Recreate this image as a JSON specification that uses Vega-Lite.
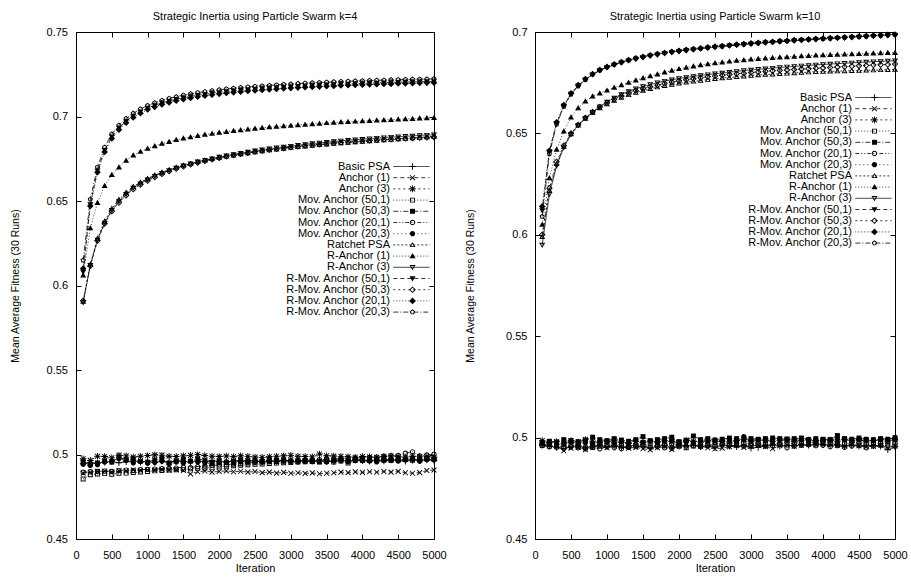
{
"$schema":"https://vega.github.io/schema/vega-lite/v6.json",
"background":"white",
"padding":{"left":9,"top":10,"right":5,"bottom":3},
"config":{
 "view":{"stroke":"black","strokeWidth":1},
 "axis":{"labelFont":"Liberation Sans","labelFontSize":11,"labelColor":"black","titleFont":"Liberation Sans","titleFontSize":11,"titleFontWeight":"normal","titleColor":"black","tickColor":"black","tickWidth":1,"tickSize":-5,"domain":false,"grid":false,"labelFlush":false,"labelOverlap":false,"minExtent":0},
 "title":{"font":"Liberation Sans","fontSize":11,"fontWeight":"normal","color":"black","offset":4},
 "legend":{"labelFont":"Liberation Sans","labelFontSize":11,"labelColor":"black","rowPadding":0.2,"padding":0}
},
"resolve":{"scale":{"strokeDash":"independent","shape":"independent"},"legend":{"strokeDash":"independent","shape":"independent"}},
"datasets":{
"k4":[
{"s":"Basic PSA","m":"Basic PSA","x":[100,200,300,400,500,600,700,800,900,1000,1100,1200,1300,1400,1500,1600,1700,1800,1900,2000,2100,2200,2300,2400,2500,2600,2700,2800,2900,3000,3100,3200,3300,3400,3500,3600,3700,3800,3900,4000,4100,4200,4300,4400,4500,4600,4700,4800,4900,5000],"y":[0.4945,0.4952,0.4948,0.4955,0.4958,0.4951,0.4957,0.4962,0.4955,0.4958,0.4953,0.4960,0.4956,0.4962,0.4958,0.4955,0.4961,0.4957,0.4963,0.4959,0.4955,0.4962,0.4958,0.4964,0.4960,0.4957,0.4963,0.4959,0.4965,0.4961,0.4958,0.4964,0.4960,0.4966,0.4962,0.4959,0.4965,0.4961,0.4967,0.4963,0.4960,0.4966,0.4962,0.4968,0.4964,0.4961,0.4967,0.4963,0.4969,0.4965]},
{"s":"Anchor (1)","m":"Anchor (1)","x":[100,200,300,400,500,600,700,800,900,1000,1100,1200,1300,1400,1500,1600,1700,1800,1900,2000,2100,2200,2300,2400,2500,2600,2700,2800,2900,3000,3100,3200,3300,3400,3500,3600,3700,3800,3900,4000,4100,4200,4300,4400,4500,4600,4700,4800,4900,5000],"y":[0.4890,0.4895,0.4900,0.4902,0.4898,0.4905,0.4903,0.4908,0.4906,0.4910,0.4908,0.4912,0.4907,0.4910,0.4905,0.4885,0.4898,0.4902,0.4896,0.4900,0.4903,0.4898,0.4901,0.4896,0.4899,0.4893,0.4896,0.4890,0.4894,0.4889,0.4892,0.4888,0.4891,0.4886,0.4889,0.4892,0.4896,0.4893,0.4897,0.4894,0.4898,0.4895,0.4899,0.4896,0.4900,0.4892,0.4889,0.4893,0.4905,0.4908]},
{"s":"Anchor (3)","m":"Anchor (3)","x":[100,200,300,400,500,600,700,800,900,1000,1100,1200,1300,1400,1500,1600,1700,1800,1900,2000,2100,2200,2300,2400,2500,2600,2700,2800,2900,3000,3100,3200,3300,3400,3500,3600,3700,3800,3900,4000,4100,4200,4300,4400,4500,4600,4700,4800,4900,5000],"y":[0.4975,0.4965,0.4990,0.4988,0.4980,0.4996,0.4992,0.4985,0.4990,0.4994,0.4998,0.4996,0.4990,0.4988,0.4992,0.4995,0.5000,0.4994,0.4990,0.4988,0.4991,0.4987,0.4993,0.4989,0.4985,0.4983,0.4987,0.4990,0.4992,0.4995,0.4990,0.4988,0.4986,0.5003,0.4993,0.4991,0.4989,0.4986,0.4984,0.4988,0.4986,0.4983,0.4988,0.4991,0.4987,0.4985,0.4990,0.4986,0.4988,0.4984]},
{"s":"Mov. Anchor (50,1)","m":"Mov. Anchor (50,1)","x":[100,200,300,400,500,600,700,800,900,1000,1100,1200,1300,1400,1500,1600,1700,1800,1900,2000,2100,2200,2300,2400,2500,2600,2700,2800,2900,3000,3100,3200,3300,3400,3500,3600,3700,3800,3900,4000,4100,4200,4300,4400,4500,4600,4700,4800,4900,5000],"y":[0.4855,0.4880,0.4885,0.4887,0.4883,0.4889,0.4890,0.4893,0.4896,0.4900,0.4903,0.4905,0.4908,0.4910,0.4912,0.4915,0.4918,0.4920,0.4924,0.4927,0.4930,0.4933,0.4936,0.4939,0.4942,0.4944,0.4947,0.4949,0.4951,0.4953,0.4955,0.4957,0.4958,0.4960,0.4961,0.4955,0.4962,0.4950,0.4964,0.4965,0.4966,0.4967,0.4968,0.4969,0.4968,0.4970,0.4966,0.4972,0.4973,0.4974]},
{"s":"Mov. Anchor (50,3)","m":"Mov. Anchor (50,3)","x":[100,200,300,400,500,600,700,800,900,1000,1100,1200,1300,1400,1500,1600,1700,1800,1900,2000,2100,2200,2300,2400,2500,2600,2700,2800,2900,3000,3100,3200,3300,3400,3500,3600,3700,3800,3900,4000,4100,4200,4300,4400,4500,4600,4700,4800,4900,5000],"y":[0.4958,0.4942,0.4950,0.4962,0.4955,0.4985,0.4970,0.4972,0.4960,0.4955,0.4968,0.4975,0.4950,0.4962,0.4970,0.4960,0.4975,0.4965,0.4955,0.4962,0.4955,0.4960,0.4968,0.4962,0.4966,0.4958,0.4970,0.4965,0.4968,0.4962,0.4960,0.4964,0.4958,0.4955,0.4962,0.4966,0.4970,0.4960,0.4972,0.4968,0.4965,0.4970,0.4968,0.4965,0.4970,0.4972,0.4974,0.4968,0.4975,0.4972]},
{"s":"Mov. Anchor (20,1)","m":"Mov. Anchor (20,1)","x":[100,200,300,400,500,600,700,800,900,1000,1100,1200,1300,1400,1500,1600,1700,1800,1900,2000,2100,2200,2300,2400,2500,2600,2700,2800,2900,3000,3100,3200,3300,3400,3500,3600,3700,3800,3900,4000,4100,4200,4300,4400,4500,4600,4700,4800,4900,5000],"y":[0.4895,0.4898,0.4900,0.4902,0.4900,0.4905,0.4908,0.4906,0.4910,0.4912,0.4914,0.4916,0.4918,0.4920,0.4925,0.4922,0.4928,0.4932,0.4935,0.4938,0.4940,0.4943,0.4946,0.4950,0.4952,0.4955,0.4957,0.4959,0.4960,0.4962,0.4964,0.4966,0.4968,0.4970,0.4972,0.4974,0.4976,0.4978,0.4980,0.4982,0.4983,0.4985,0.4990,0.4993,0.4995,0.5008,0.5016,0.4992,0.4998,0.5002]},
{"s":"Mov. Anchor (20,3)","m":"Mov. Anchor (20,3)","x":[100,200,300,400,500,600,700,800,900,1000,1100,1200,1300,1400,1500,1600,1700,1800,1900,2000,2100,2200,2300,2400,2500,2600,2700,2800,2900,3000,3100,3200,3300,3400,3500,3600,3700,3800,3900,4000,4100,4200,4300,4400,4500,4600,4700,4800,4900,5000],"y":[0.4942,0.4935,0.4940,0.4955,0.4960,0.4975,0.4965,0.4950,0.4958,0.4948,0.4952,0.4960,0.4945,0.4955,0.4950,0.4962,0.4956,0.4950,0.4946,0.4952,0.4955,0.4950,0.4958,0.4955,0.4960,0.4956,0.4962,0.4958,0.4965,0.4960,0.4962,0.4958,0.4965,0.4960,0.4955,0.4962,0.4966,0.4960,0.4965,0.4968,0.4962,0.4956,0.4966,0.4970,0.4962,0.4968,0.4972,0.4960,0.4970,0.4968]},
{"s":"Ratchet PSA","m":"Ratchet PSA","x":[100,200,300,400,500,600,700,800,900,1000,1100,1200,1300,1400,1500,1600,1700,1800,1900,2000,2100,2200,2300,2400,2500,2600,2700,2800,2900,3000,3100,3200,3300,3400,3500,3600,3700,3800,3900,4000,4100,4200,4300,4400,4500,4600,4700,4800,4900,5000],"y":[0.5905,0.6125,0.6278,0.6380,0.6456,0.6508,0.6550,0.6586,0.6611,0.6633,0.6653,0.6670,0.6685,0.6699,0.6711,0.6722,0.6732,0.6741,0.6749,0.6757,0.6764,0.6771,0.6778,0.6784,0.6790,0.6796,0.6801,0.6806,0.6811,0.6816,0.6820,0.6824,0.6828,0.6832,0.6836,0.6840,0.6843,0.6846,0.6849,0.6852,0.6855,0.6858,0.6861,0.6864,0.6867,0.6870,0.6873,0.6876,0.6879,0.6882]},
{"s":"R-Anchor (1)","m":"R-Anchor (1)","x":[100,200,300,400,500,600,700,800,900,1000,1100,1200,1300,1400,1500,1600,1700,1800,1900,2000,2100,2200,2300,2400,2500,2600,2700,2800,2900,3000,3100,3200,3300,3400,3500,3600,3700,3800,3900,4000,4100,4200,4300,4400,4500,4600,4700,4800,4900,5000],"y":[0.6060,0.6340,0.6490,0.6590,0.6655,0.6700,0.6740,0.6770,0.6792,0.6810,0.6825,0.6840,0.6851,0.6862,0.6871,0.6879,0.6886,0.6893,0.6899,0.6905,0.6910,0.6915,0.6920,0.6925,0.6929,0.6933,0.6937,0.6941,0.6944,0.6947,0.6950,0.6953,0.6956,0.6959,0.6962,0.6964,0.6967,0.6969,0.6971,0.6973,0.6975,0.6977,0.6979,0.6981,0.6983,0.6985,0.6987,0.6989,0.6991,0.6993]},
{"s":"R-Anchor (3)","m":"R-Anchor (3)","x":[100,200,300,400,500,600,700,800,900,1000,1100,1200,1300,1400,1500,1600,1700,1800,1900,2000,2100,2200,2300,2400,2500,2600,2700,2800,2900,3000,3100,3200,3300,3400,3500,3600,3700,3800,3900,4000,4100,4200,4300,4400,4500,4600,4700,4800,4900,5000],"y":[0.5900,0.6120,0.6270,0.6370,0.6445,0.6497,0.6540,0.6577,0.6603,0.6626,0.6647,0.6665,0.6681,0.6696,0.6709,0.6721,0.6732,0.6742,0.6751,0.6760,0.6768,0.6776,0.6783,0.6790,0.6797,0.6803,0.6809,0.6815,0.6820,0.6825,0.6830,0.6835,0.6840,0.6844,0.6848,0.6852,0.6856,0.6860,0.6863,0.6866,0.6869,0.6872,0.6875,0.6878,0.6880,0.6883,0.6885,0.6888,0.6890,0.6892]},
{"s":"R-Mov. Anchor (50,1)","m":"R-Mov. Anchor (50,1)","x":[100,200,300,400,500,600,700,800,900,1000,1100,1200,1300,1400,1500,1600,1700,1800,1900,2000,2100,2200,2300,2400,2500,2600,2700,2800,2900,3000,3100,3200,3300,3400,3500,3600,3700,3800,3900,4000,4100,4200,4300,4400,4500,4600,4700,4800,4900,5000],"y":[0.6080,0.6480,0.6680,0.6800,0.6880,0.6932,0.6972,0.7003,0.7028,0.7050,0.7066,0.7080,0.7092,0.7102,0.7111,0.7119,0.7126,0.7132,0.7138,0.7143,0.7148,0.7152,0.7156,0.7160,0.7163,0.7166,0.7169,0.7172,0.7175,0.7177,0.7180,0.7182,0.7184,0.7186,0.7188,0.7190,0.7192,0.7193,0.7195,0.7196,0.7198,0.7199,0.7200,0.7202,0.7203,0.7204,0.7205,0.7206,0.7207,0.7208]},
{"s":"R-Mov. Anchor (50,3)","m":"R-Mov. Anchor (50,3)","x":[100,200,300,400,500,600,700,800,900,1000,1100,1200,1300,1400,1500,1600,1700,1800,1900,2000,2100,2200,2300,2400,2500,2600,2700,2800,2900,3000,3100,3200,3300,3400,3500,3600,3700,3800,3900,4000,4100,4200,4300,4400,4500,4600,4700,4800,4900,5000],"y":[0.5910,0.6115,0.6265,0.6365,0.6440,0.6490,0.6533,0.6570,0.6597,0.6620,0.6641,0.6660,0.6676,0.6691,0.6704,0.6716,0.6727,0.6737,0.6746,0.6755,0.6763,0.6771,0.6778,0.6785,0.6791,0.6797,0.6803,0.6808,0.6813,0.6818,0.6823,0.6827,0.6831,0.6835,0.6839,0.6843,0.6846,0.6849,0.6852,0.6855,0.6858,0.6861,0.6864,0.6866,0.6868,0.6870,0.6872,0.6874,0.6876,0.6878]},
{"s":"R-Mov. Anchor (20,1)","m":"R-Mov. Anchor (20,1)","x":[100,200,300,400,500,600,700,800,900,1000,1100,1200,1300,1400,1500,1600,1700,1800,1900,2000,2100,2200,2300,2400,2500,2600,2700,2800,2900,3000,3100,3200,3300,3400,3500,3600,3700,3800,3900,4000,4100,4200,4300,4400,4500,4600,4700,4800,4900,5000],"y":[0.6100,0.6470,0.6670,0.6790,0.6870,0.6922,0.6963,0.6994,0.7019,0.7041,0.7057,0.7071,0.7083,0.7093,0.7102,0.7110,0.7117,0.7123,0.7129,0.7134,0.7139,0.7143,0.7147,0.7151,0.7154,0.7157,0.7160,0.7163,0.7166,0.7168,0.7171,0.7173,0.7175,0.7177,0.7179,0.7181,0.7183,0.7185,0.7186,0.7188,0.7189,0.7191,0.7192,0.7193,0.7195,0.7196,0.7197,0.7198,0.7199,0.7200]},
{"s":"R-Mov. Anchor (20,3)","m":"R-Mov. Anchor (20,3)","x":[100,200,300,400,500,600,700,800,900,1000,1100,1200,1300,1400,1500,1600,1700,1800,1900,2000,2100,2200,2300,2400,2500,2600,2700,2800,2900,3000,3100,3200,3300,3400,3500,3600,3700,3800,3900,4000,4100,4200,4300,4400,4500,4600,4700,4800,4900,5000],"y":[0.6150,0.6510,0.6700,0.6818,0.6896,0.6948,0.6988,0.7019,0.7044,0.7065,0.7081,0.7095,0.7107,0.7117,0.7126,0.7134,0.7141,0.7147,0.7153,0.7158,0.7163,0.7167,0.7171,0.7175,0.7178,0.7181,0.7184,0.7187,0.7190,0.7192,0.7195,0.7197,0.7199,0.7201,0.7203,0.7205,0.7207,0.7208,0.7210,0.7211,0.7213,0.7214,0.7215,0.7217,0.7218,0.7219,0.7220,0.7221,0.7222,0.7223]}
],
"k10":[
{"s":"Basic PSA","m":"Basic PSA","x":[100,200,300,400,500,600,700,800,900,1000,1100,1200,1300,1400,1500,1600,1700,1800,1900,2000,2100,2200,2300,2400,2500,2600,2700,2800,2900,3000,3100,3200,3300,3400,3500,3600,3700,3800,3900,4000,4100,4200,4300,4400,4500,4600,4700,4800,4900,5000],"y":[0.4965,0.4958,0.4952,0.4945,0.4955,0.4960,0.4950,0.4958,0.4962,0.4955,0.4960,0.4952,0.4958,0.4963,0.4955,0.4948,0.4957,0.4962,0.4950,0.4965,0.4958,0.4962,0.4955,0.4960,0.4950,0.4963,0.4958,0.4955,0.4962,0.4948,0.4952,0.4960,0.4965,0.4958,0.4962,0.4960,0.4965,0.4963,0.4968,0.4966,0.4962,0.4965,0.4960,0.4963,0.4958,0.4962,0.4960,0.4958,0.4940,0.4955]},
{"s":"Anchor (1)","m":"Anchor (1)","x":[100,200,300,400,500,600,700,800,900,1000,1100,1200,1300,1400,1500,1600,1700,1800,1900,2000,2100,2200,2300,2400,2500,2600,2700,2800,2900,3000,3100,3200,3300,3400,3500,3600,3700,3800,3900,4000,4100,4200,4300,4400,4500,4600,4700,4800,4900,5000],"y":[0.4970,0.4962,0.4955,0.4935,0.4948,0.4952,0.4940,0.4955,0.4958,0.4950,0.4962,0.4955,0.4948,0.4952,0.4945,0.4940,0.4950,0.4955,0.4942,0.4960,0.4965,0.4970,0.4958,0.4950,0.4945,0.4948,0.4955,0.4960,0.4952,0.4958,0.4962,0.4955,0.4945,0.4960,0.4965,0.4958,0.4962,0.4968,0.4965,0.4970,0.4966,0.4962,0.4958,0.4968,0.4960,0.4955,0.4958,0.4962,0.4950,0.4958]},
{"s":"Anchor (3)","m":"Anchor (3)","x":[100,200,300,400,500,600,700,800,900,1000,1100,1200,1300,1400,1500,1600,1700,1800,1900,2000,2100,2200,2300,2400,2500,2600,2700,2800,2900,3000,3100,3200,3300,3400,3500,3600,3700,3800,3900,4000,4100,4200,4300,4400,4500,4600,4700,4800,4900,5000],"y":[0.4985,0.4975,0.4980,0.4970,0.4985,0.4978,0.4990,0.4982,0.4975,0.4980,0.4985,0.4978,0.4972,0.4980,0.4975,0.4982,0.4978,0.4985,0.4980,0.4975,0.4988,0.4982,0.4978,0.4985,0.4980,0.4983,0.4978,0.4985,0.4990,0.4982,0.4985,0.4988,0.4980,0.4985,0.4990,0.4982,0.4985,0.4988,0.4983,0.4985,0.4988,0.4982,0.4990,0.4985,0.4988,0.4983,0.4986,0.4990,0.4984,0.4988]},
{"s":"Mov. Anchor (50,1)","m":"Mov. Anchor (50,1)","x":[100,200,300,400,500,600,700,800,900,1000,1100,1200,1300,1400,1500,1600,1700,1800,1900,2000,2100,2200,2300,2400,2500,2600,2700,2800,2900,3000,3100,3200,3300,3400,3500,3600,3700,3800,3900,4000,4100,4200,4300,4400,4500,4600,4700,4800,4900,5000],"y":[0.4962,0.4958,0.4960,0.4955,0.4962,0.4958,0.4950,0.4952,0.4958,0.4962,0.4965,0.4960,0.4955,0.4962,0.4968,0.4958,0.4962,0.4965,0.4970,0.4960,0.4950,0.4958,0.4965,0.4962,0.4968,0.4972,0.4968,0.4972,0.4975,0.4968,0.4970,0.4965,0.4972,0.4968,0.4970,0.4975,0.4972,0.4978,0.4975,0.4972,0.4975,0.4970,0.4968,0.4975,0.4978,0.4972,0.4975,0.4970,0.4978,0.4975]},
{"s":"Mov. Anchor (50,3)","m":"Mov. Anchor (50,3)","x":[100,200,300,400,500,600,700,800,900,1000,1100,1200,1300,1400,1500,1600,1700,1800,1900,2000,2100,2200,2300,2400,2500,2600,2700,2800,2900,3000,3100,3200,3300,3400,3500,3600,3700,3800,3900,4000,4100,4200,4300,4400,4500,4600,4700,4800,4900,5000],"y":[0.4975,0.4982,0.4978,0.4990,0.4985,0.4980,0.4988,0.5002,0.4990,0.4985,0.4995,0.4988,0.4982,0.4990,0.5005,0.4985,0.4990,0.4995,0.5002,0.4980,0.4985,0.5008,0.4990,0.4995,0.4988,0.4992,0.4998,0.4995,0.4990,0.4995,0.4992,0.4995,0.4998,0.4995,0.4993,0.4995,0.4998,0.4990,0.4995,0.4992,0.4990,0.5010,0.4995,0.4992,0.4998,0.4992,0.4990,0.4995,0.4992,0.5000]},
{"s":"Mov. Anchor (20,1)","m":"Mov. Anchor (20,1)","x":[100,200,300,400,500,600,700,800,900,1000,1100,1200,1300,1400,1500,1600,1700,1800,1900,2000,2100,2200,2300,2400,2500,2600,2700,2800,2900,3000,3100,3200,3300,3400,3500,3600,3700,3800,3900,4000,4100,4200,4300,4400,4500,4600,4700,4800,4900,5000],"y":[0.4960,0.4955,0.4952,0.4948,0.4955,0.4950,0.4945,0.4952,0.4945,0.4955,0.4950,0.4945,0.4952,0.4955,0.4958,0.4952,0.4955,0.4950,0.4948,0.4955,0.4958,0.4962,0.4955,0.4960,0.4958,0.4965,0.4960,0.4962,0.4958,0.4960,0.4962,0.4958,0.4960,0.4965,0.4950,0.4958,0.4962,0.4965,0.4960,0.4962,0.4955,0.4960,0.4952,0.4958,0.4962,0.4950,0.4958,0.4962,0.4960,0.4958]},
{"s":"Mov. Anchor (20,3)","m":"Mov. Anchor (20,3)","x":[100,200,300,400,500,600,700,800,900,1000,1100,1200,1300,1400,1500,1600,1700,1800,1900,2000,2100,2200,2300,2400,2500,2600,2700,2800,2900,3000,3100,3200,3300,3400,3500,3600,3700,3800,3900,4000,4100,4200,4300,4400,4500,4600,4700,4800,4900,5000],"y":[0.4970,0.4968,0.4965,0.4972,0.4978,0.4970,0.4975,0.4972,0.4978,0.4982,0.4975,0.4980,0.4972,0.4985,0.4978,0.4982,0.4975,0.4980,0.4985,0.4978,0.4982,0.4978,0.4985,0.4980,0.4988,0.4985,0.4990,0.4985,0.5005,0.4988,0.4990,0.4985,0.4988,0.4992,0.4990,0.4988,0.4995,0.4990,0.4985,0.4990,0.4988,0.4992,0.4990,0.4985,0.4992,0.4988,0.4985,0.4990,0.4988,0.4992]},
{"s":"Ratchet PSA","m":"Ratchet PSA","x":[100,200,300,400,500,600,700,800,900,1000,1100,1200,1300,1400,1500,1600,1700,1800,1900,2000,2100,2200,2300,2400,2500,2600,2700,2800,2900,3000,3100,3200,3300,3400,3500,3600,3700,3800,3900,4000,4100,4200,4300,4400,4500,4600,4700,4800,4900,5000],"y":[0.5990,0.6220,0.6350,0.6435,0.6497,0.6540,0.6573,0.6601,0.6625,0.6645,0.6662,0.6677,0.6690,0.6701,0.6711,0.6720,0.6728,0.6735,0.6741,0.6747,0.6752,0.6757,0.6761,0.6765,0.6769,0.6773,0.6776,0.6779,0.6782,0.6785,0.6788,0.6790,0.6792,0.6794,0.6796,0.6798,0.6800,0.6802,0.6804,0.6805,0.6806,0.6807,0.6808,0.6809,0.6810,0.6811,0.6812,0.6813,0.6814,0.6815]},
{"s":"R-Anchor (1)","m":"R-Anchor (1)","x":[100,200,300,400,500,600,700,800,900,1000,1100,1200,1300,1400,1500,1600,1700,1800,1900,2000,2100,2200,2300,2400,2500,2600,2700,2800,2900,3000,3100,3200,3300,3400,3500,3600,3700,3800,3900,4000,4100,4200,4300,4400,4500,4600,4700,4800,4900,5000],"y":[0.6050,0.6280,0.6420,0.6510,0.6580,0.6625,0.6658,0.6683,0.6698,0.6712,0.6726,0.6739,0.6751,0.6762,0.6773,0.6783,0.6792,0.6801,0.6810,0.6818,0.6825,0.6831,0.6837,0.6842,0.6847,0.6851,0.6855,0.6859,0.6862,0.6865,0.6868,0.6870,0.6873,0.6875,0.6877,0.6879,0.6881,0.6883,0.6885,0.6886,0.6888,0.6889,0.6890,0.6891,0.6892,0.6894,0.6895,0.6896,0.6897,0.6898]},
{"s":"R-Anchor (3)","m":"R-Anchor (3)","x":[100,200,300,400,500,600,700,800,900,1000,1100,1200,1300,1400,1500,1600,1700,1800,1900,2000,2100,2200,2300,2400,2500,2600,2700,2800,2900,3000,3100,3200,3300,3400,3500,3600,3700,3800,3900,4000,4100,4200,4300,4400,4500,4600,4700,4800,4900,5000],"y":[0.5950,0.6200,0.6340,0.6430,0.6495,0.6540,0.6575,0.6605,0.6632,0.6655,0.6675,0.6692,0.6707,0.6720,0.6731,0.6741,0.6750,0.6758,0.6765,0.6771,0.6776,0.6781,0.6786,0.6790,0.6794,0.6798,0.6802,0.6806,0.6810,0.6813,0.6816,0.6819,0.6822,0.6825,0.6828,0.6830,0.6833,0.6835,0.6838,0.6840,0.6842,0.6844,0.6846,0.6848,0.6850,0.6852,0.6854,0.6855,0.6857,0.6858]},
{"s":"R-Mov. Anchor (50,1)","m":"R-Mov. Anchor (50,1)","x":[100,200,300,400,500,600,700,800,900,1000,1100,1200,1300,1400,1500,1600,1700,1800,1900,2000,2100,2200,2300,2400,2500,2600,2700,2800,2900,3000,3100,3200,3300,3400,3500,3600,3700,3800,3900,4000,4100,4200,4300,4400,4500,4600,4700,4800,4900,5000],"y":[0.6120,0.6410,0.6550,0.6635,0.6695,0.6735,0.6765,0.6790,0.6810,0.6825,0.6838,0.6849,0.6859,0.6867,0.6875,0.6882,0.6888,0.6894,0.6899,0.6904,0.6909,0.6913,0.6917,0.6921,0.6925,0.6928,0.6932,0.6935,0.6938,0.6941,0.6944,0.6947,0.6949,0.6952,0.6954,0.6957,0.6959,0.6961,0.6963,0.6965,0.6967,0.6969,0.6971,0.6973,0.6975,0.6977,0.6979,0.6981,0.6983,0.6985]},
{"s":"R-Mov. Anchor (50,3)","m":"R-Mov. Anchor (50,3)","x":[100,200,300,400,500,600,700,800,900,1000,1100,1200,1300,1400,1500,1600,1700,1800,1900,2000,2100,2200,2300,2400,2500,2600,2700,2800,2900,3000,3100,3200,3300,3400,3500,3600,3700,3800,3900,4000,4100,4200,4300,4400,4500,4600,4700,4800,4900,5000],"y":[0.6000,0.6230,0.6360,0.6440,0.6500,0.6543,0.6577,0.6606,0.6630,0.6651,0.6669,0.6685,0.6699,0.6711,0.6721,0.6730,0.6738,0.6746,0.6753,0.6759,0.6765,0.6770,0.6775,0.6779,0.6783,0.6787,0.6791,0.6794,0.6797,0.6800,0.6803,0.6806,0.6809,0.6811,0.6813,0.6815,0.6817,0.6819,0.6821,0.6823,0.6825,0.6827,0.6829,0.6831,0.6833,0.6835,0.6837,0.6839,0.6840,0.6842]},
{"s":"R-Mov. Anchor (20,1)","m":"R-Mov. Anchor (20,1)","x":[100,200,300,400,500,600,700,800,900,1000,1100,1200,1300,1400,1500,1600,1700,1800,1900,2000,2100,2200,2300,2400,2500,2600,2700,2800,2900,3000,3100,3200,3300,3400,3500,3600,3700,3800,3900,4000,4100,4200,4300,4400,4500,4600,4700,4800,4900,5000],"y":[0.6140,0.6415,0.6555,0.6640,0.6698,0.6738,0.6768,0.6793,0.6813,0.6828,0.6841,0.6852,0.6862,0.6870,0.6878,0.6885,0.6891,0.6897,0.6902,0.6907,0.6912,0.6916,0.6920,0.6924,0.6928,0.6931,0.6935,0.6938,0.6941,0.6944,0.6947,0.6950,0.6952,0.6955,0.6957,0.6960,0.6962,0.6964,0.6966,0.6968,0.6970,0.6972,0.6974,0.6976,0.6978,0.6980,0.6982,0.6984,0.6986,0.6988]},
{"s":"R-Mov. Anchor (20,3)","m":"R-Mov. Anchor (20,3)","x":[100,200,300,400,500,600,700,800,900,1000,1100,1200,1300,1400,1500,1600,1700,1800,1900,2000,2100,2200,2300,2400,2500,2600,2700,2800,2900,3000,3100,3200,3300,3400,3500,3600,3700,3800,3900,4000,4100,4200,4300,4400,4500,4600,4700,4800,4900,5000],"y":[0.6090,0.6400,0.6545,0.6632,0.6693,0.6734,0.6765,0.6791,0.6811,0.6827,0.6840,0.6851,0.6861,0.6870,0.6878,0.6885,0.6891,0.6897,0.6902,0.6907,0.6911,0.6915,0.6919,0.6923,0.6927,0.6930,0.6934,0.6937,0.6940,0.6943,0.6946,0.6949,0.6951,0.6954,0.6956,0.6959,0.6961,0.6963,0.6965,0.6967,0.6969,0.6971,0.6973,0.6975,0.6977,0.6979,0.6981,0.6983,0.6985,0.6987]}
]
},
"spacing":18,
"hconcat":[
{
 "width":358,"height":507,
 "title":{"text":"Strategic Inertia using Particle Swarm k=4"},
 "data":{"name":"k4"},
 "transform":[{"flatten":["x","y"]}],
 "layer":[
  {"mark":{"type":"line","color":"black","strokeWidth":0.8},
   "encoding":{
    "x":{"field":"x","type":"quantitative","scale":{"domain":[0,5000],"nice":false,"zero":false},"axis":{"orient":"bottom","values":[0,500,1000,1500,2000,2500,3000,3500,4000,4500,5000],"format":"d","title":"Iteration","labelPadding":15,"titlePadding":2}},
    "y":{"field":"y","type":"quantitative","scale":{"domain":[0.45,0.75],"nice":false,"zero":false},"axis":{"orient":"left","values":[0.45,0.5,0.55,0.6,0.65,0.7,0.75],"format":".2~f","title":"Mean Average Fitness (30 Runs)","labelPadding":13.5,"titlePadding":26,"titleFontSize":10.5}},
    "strokeDash":{"field":"s","type":"nominal","scale":{"domain":["Basic PSA","Anchor (1)","Anchor (3)","Mov. Anchor (50,1)","Mov. Anchor (50,3)","Mov. Anchor (20,1)","Mov. Anchor (20,3)","Ratchet PSA","R-Anchor (1)","R-Anchor (3)","R-Mov. Anchor (50,1)","R-Mov. Anchor (50,3)","R-Mov. Anchor (20,1)","R-Mov. Anchor (20,3)"],"range":[[1,0],[4,3],[2,3],[1,2],[5,2,1,2],[4,2,1,2,1,2],[1,3],[2,2],[1,2],[1,0],[4,3],[2,3],[1,2],[5,2,1,2]]},
     "legend":{"orient":"none","legendX":198,"legendY":128.5,"title":null,"direction":"vertical","labelAlign":"right","labelOffset":104,"labelLimit":300,"symbolType":"M-1,0M20.6,0H27.2","symbolSize":121,"symbolStrokeColor":"black","symbolStrokeWidth":0.8}}
   }},
  {"mark":{"type":"point","filled":true,"color":"black","strokeWidth":0,"size":121,"opacity":1},
   "encoding":{
    "x":{"field":"x","type":"quantitative","axis":{"orient":"top","values":[0,500,1000,1500,2000,2500,3000,3500,4000,4500,5000],"labels":false,"title":null}},
    "y":{"field":"y","type":"quantitative","axis":{"orient":"right","values":[0.45,0.5,0.55,0.6,0.65,0.7,0.75],"labels":false,"title":null}},
    "shape":{"field":"m","type":"nominal","sort":["Basic PSA","Anchor (1)","Anchor (3)","Mov. Anchor (50,1)","Mov. Anchor (50,3)","Mov. Anchor (20,1)","Mov. Anchor (20,3)","Ratchet PSA","R-Anchor (1)","R-Anchor (3)","R-Mov. Anchor (50,1)","R-Mov. Anchor (50,3)","R-Mov. Anchor (20,1)","R-Mov. Anchor (20,3)"],"scale":{"range":["M-0.6,-0.085H0.6V0.085H-0.6ZM-0.085,-0.6H0.085V0.6H-0.085Z","M-0.39,-0.51L0.51,0.39L0.39,0.51L-0.51,-0.39ZM-0.39,0.51L-0.51,0.39L0.39,-0.51L0.51,-0.39Z","M-0.6,-0.085H0.6V0.085H-0.6ZM-0.085,-0.6H0.085V0.6H-0.085ZM-0.39,-0.51L0.51,0.39L0.39,0.51L-0.51,-0.39ZM-0.39,0.51L-0.51,0.39L0.39,-0.51L0.51,-0.39Z","M-0.45,-0.45H0.45V0.45H-0.45ZM-0.28,-0.28V0.28H0.28V-0.28Z","M-0.45,-0.45H0.45V0.45H-0.45Z","M-0.48,0A0.48,0.48,0,1,1,0.48,0A0.48,0.48,0,1,1,-0.48,0ZM-0.31,0A0.31,0.31,0,1,0,0.31,0A0.31,0.31,0,1,0,-0.31,0Z","M-0.48,0A0.48,0.48,0,1,1,0.48,0A0.48,0.48,0,1,1,-0.48,0Z","M0,-0.55L0.55,0.4H-0.55ZM0,-0.211L-0.255,0.23H0.255Z","M0,-0.55L0.55,0.4H-0.55Z","M0,0.55L0.55,-0.4H-0.55ZM0,0.211L-0.255,-0.23H0.255Z","M0,0.55L0.55,-0.4H-0.55Z","M0,-0.6L0.6,0L0,0.6L-0.6,0ZM0,-0.36L-0.36,0L0,0.36L0.36,0Z","M0,-0.6L0.6,0L0,0.6L-0.6,0Z","M0,-0.5L0.476,-0.155L0.294,0.405L-0.294,0.405L-0.476,-0.155ZM0,-0.29L-0.276,-0.09L-0.17,0.235L0.17,0.235L0.276,-0.09Z"]},
     "legend":{"orient":"none","legendX":330.5,"legendY":128.5,"title":null,"direction":"vertical","labelOpacity":0,"labelExpr":"' '","labelFontSize":11,"rowPadding":0.2,"symbolSize":121,"symbolFillColor":"black","symbolStrokeColor":"transparent","symbolStrokeWidth":0.8,"symbolOpacity":1}}
   }}
 ],
 "resolve":{"axis":{"x":"independent","y":"independent"}}
},
{
 "width":360,"height":507,
 "title":{"text":"Strategic Inertia using Particle Swarm k=10"},
 "data":{"name":"k10"},
 "transform":[{"flatten":["x","y"]}],
 "layer":[
  {"mark":{"type":"line","color":"black","strokeWidth":0.8},
   "encoding":{
    "x":{"field":"x","type":"quantitative","scale":{"domain":[0,5000],"nice":false,"zero":false},"axis":{"orient":"bottom","values":[0,500,1000,1500,2000,2500,3000,3500,4000,4500,5000],"format":"d","title":"Iteration","labelPadding":15,"titlePadding":2}},
    "y":{"field":"y","type":"quantitative","scale":{"domain":[0.45,0.7],"nice":false,"zero":false},"axis":{"orient":"left","values":[0.45,0.5,0.55,0.6,0.65,0.7],"format":".2~f","title":"Mean Average Fitness (30 Runs)","labelPadding":13,"titlePadding":30,"titleFontSize":10.5}},
    "strokeDash":{"field":"s","type":"nominal","scale":{"domain":["Basic PSA","Anchor (1)","Anchor (3)","Mov. Anchor (50,1)","Mov. Anchor (50,3)","Mov. Anchor (20,1)","Mov. Anchor (20,3)","Ratchet PSA","R-Anchor (1)","R-Anchor (3)","R-Mov. Anchor (50,1)","R-Mov. Anchor (50,3)","R-Mov. Anchor (20,1)","R-Mov. Anchor (20,3)"],"range":[[1,0],[4,3],[2,3],[1,2],[5,2,1,2],[4,2,1,2,1,2],[1,3],[2,2],[1,2],[1,0],[4,3],[2,3],[1,2],[5,2,1,2]]},
     "legend":{"orient":"none","legendX":201,"legendY":59.5,"title":null,"direction":"vertical","labelAlign":"right","labelOffset":104,"labelLimit":300,"symbolType":"M-1,0M20.6,0H27.2","symbolSize":121,"symbolStrokeColor":"black","symbolStrokeWidth":0.8}}
   }},
  {"mark":{"type":"point","filled":true,"color":"black","strokeWidth":0,"size":121,"opacity":1},
   "encoding":{
    "x":{"field":"x","type":"quantitative","axis":{"orient":"top","values":[0,500,1000,1500,2000,2500,3000,3500,4000,4500,5000],"labels":false,"title":null}},
    "y":{"field":"y","type":"quantitative","axis":{"orient":"right","values":[0.45,0.5,0.55,0.6,0.65,0.7],"labels":false,"title":null}},
    "shape":{"field":"m","type":"nominal","sort":["Basic PSA","Anchor (1)","Anchor (3)","Mov. Anchor (50,1)","Mov. Anchor (50,3)","Mov. Anchor (20,1)","Mov. Anchor (20,3)","Ratchet PSA","R-Anchor (1)","R-Anchor (3)","R-Mov. Anchor (50,1)","R-Mov. Anchor (50,3)","R-Mov. Anchor (20,1)","R-Mov. Anchor (20,3)"],"scale":{"range":["M-0.6,-0.085H0.6V0.085H-0.6ZM-0.085,-0.6H0.085V0.6H-0.085Z","M-0.39,-0.51L0.51,0.39L0.39,0.51L-0.51,-0.39ZM-0.39,0.51L-0.51,0.39L0.39,-0.51L0.51,-0.39Z","M-0.6,-0.085H0.6V0.085H-0.6ZM-0.085,-0.6H0.085V0.6H-0.085ZM-0.39,-0.51L0.51,0.39L0.39,0.51L-0.51,-0.39ZM-0.39,0.51L-0.51,0.39L0.39,-0.51L0.51,-0.39Z","M-0.45,-0.45H0.45V0.45H-0.45ZM-0.28,-0.28V0.28H0.28V-0.28Z","M-0.45,-0.45H0.45V0.45H-0.45Z","M-0.48,0A0.48,0.48,0,1,1,0.48,0A0.48,0.48,0,1,1,-0.48,0ZM-0.31,0A0.31,0.31,0,1,0,0.31,0A0.31,0.31,0,1,0,-0.31,0Z","M-0.48,0A0.48,0.48,0,1,1,0.48,0A0.48,0.48,0,1,1,-0.48,0Z","M0,-0.55L0.55,0.4H-0.55ZM0,-0.211L-0.255,0.23H0.255Z","M0,-0.55L0.55,0.4H-0.55Z","M0,0.55L0.55,-0.4H-0.55ZM0,0.211L-0.255,-0.23H0.255Z","M0,0.55L0.55,-0.4H-0.55Z","M0,-0.6L0.6,0L0,0.6L-0.6,0ZM0,-0.36L-0.36,0L0,0.36L0.36,0Z","M0,-0.6L0.6,0L0,0.6L-0.6,0Z","M0,-0.5L0.476,-0.155L0.294,0.405L-0.294,0.405L-0.476,-0.155ZM0,-0.29L-0.276,-0.09L-0.17,0.235L0.17,0.235L0.276,-0.09Z"]},
     "legend":{"orient":"none","legendX":333.5,"legendY":59.5,"title":null,"direction":"vertical","labelOpacity":0,"labelExpr":"' '","labelFontSize":11,"rowPadding":0.2,"symbolSize":121,"symbolFillColor":"black","symbolStrokeColor":"transparent","symbolStrokeWidth":0.8,"symbolOpacity":1}}
   }}
 ],
 "resolve":{"axis":{"x":"independent","y":"independent"}}
}
]
}
